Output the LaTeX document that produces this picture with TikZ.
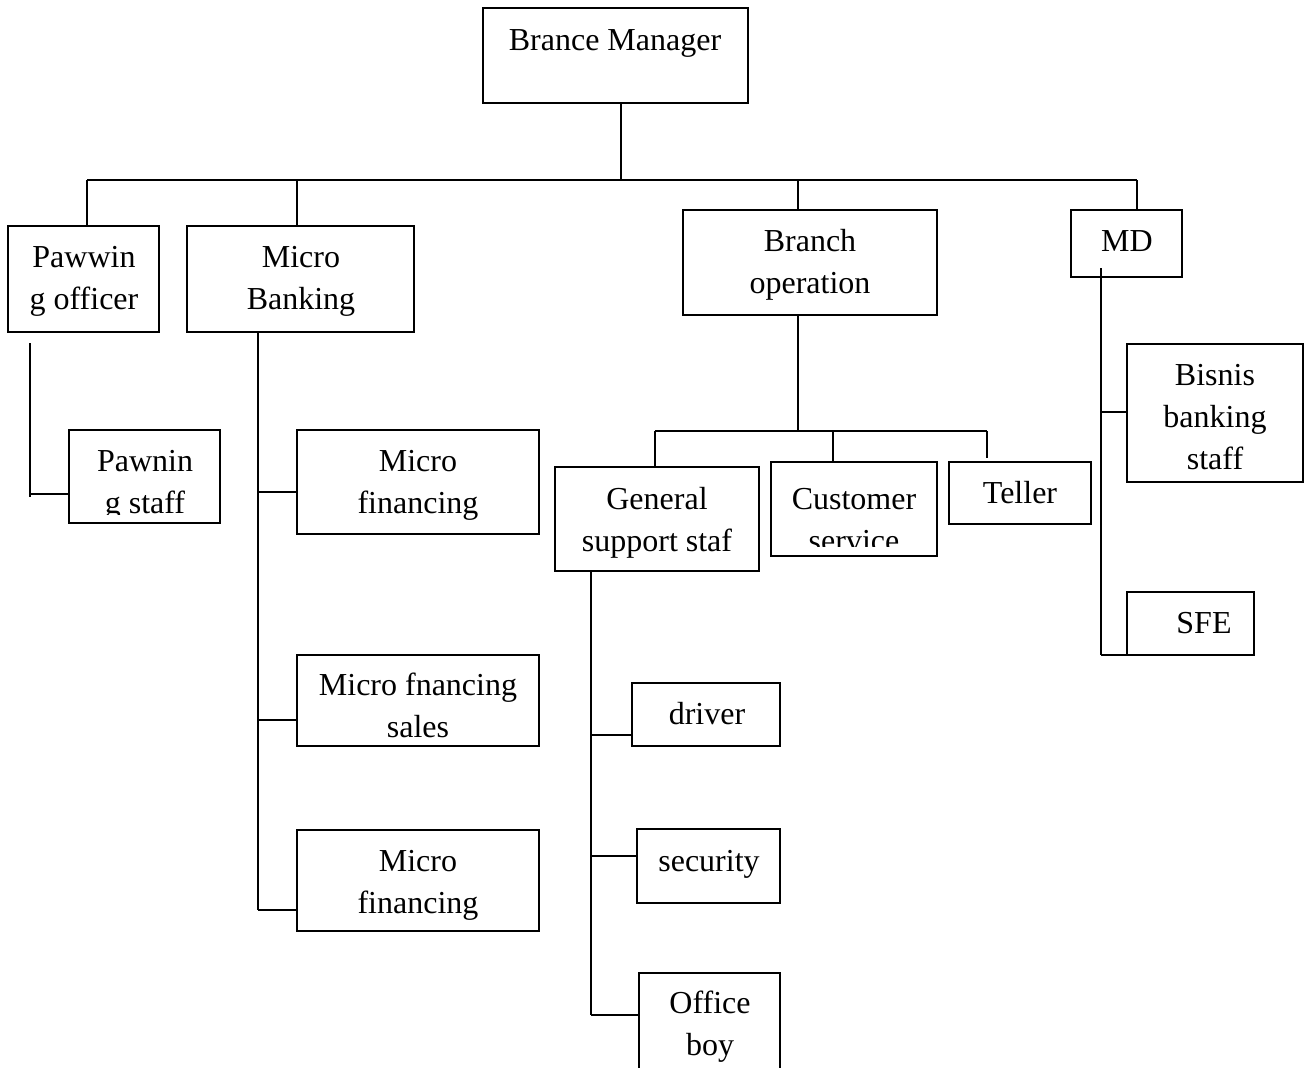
\documentclass[tikz,border=0pt]{standalone}
\usepackage{fontspec}
\setmainfont{Liberation Serif}
\usetikzlibrary{fit}
\tikzset{
  box/.style={draw=black, line width=2pt, inner sep=0pt},
  lbl/.style={inner sep=0pt, anchor=base, font=\fontsize{32}{42}\selectfont},
  conn/.style={draw=black, line width=2pt}
}
\newcommand\mybox[5]{%
  \path (#2,#3) coordinate (#1-nw) (#4,#5) coordinate (#1-se);
  \node[box, fit=(#1-nw)(#1-se)] (#1) {};}
\begin{document}
\begin{tikzpicture}[x=1pt,y=-1pt]
\clip (0,0) rectangle (1309,1068);
\fill[white] (0,0) rectangle (1309,1068);
% boxes
\mybox{bm}{483}{8}{748}{103}
\mybox{po}{8}{226}{159}{332}
\mybox{mb}{187}{226}{414}{332}
\mybox{bo}{683}{210}{937}{315}
\mybox{md}{1071}{210}{1182}{277}
\mybox{ps}{69}{430}{220}{523}
\mybox{mfa}{297}{430}{539}{534}
\mybox{mfs}{297}{655}{539}{746}
\mybox{mfb}{297}{830}{539}{931}
\mybox{gs}{555}{467}{759}{571}
\mybox{cs}{771}{462}{937}{556}
\mybox{te}{949}{462}{1091}{524}
\mybox{bb}{1127}{344}{1303}{482}
\mybox{sfe}{1127}{592}{1254}{655}
\mybox{dr}{632}{683}{780}{746}
\mybox{se}{637}{829}{780}{903}
\mybox{ob}{639}{973}{780}{1080}
% texts
\node[lbl] (bm-t) at (615,50) {Brance Manager};
\node[lbl] (po-t1) at (84,267) {Pawwin};
\node[lbl] (po-t2) at (84,309) {g officer};
\node[lbl] (mb-t1) at (301,267) {Micro};
\node[lbl] (mb-t2) at (301,309) {Banking};
\node[lbl] (bo-t1) at (810,251) {Branch};
\node[lbl] (bo-t2) at (810,293) {operation};
\node[lbl] (md-t) at (1127,251) {MD};
\begin{scope}
\clip (69,430) rectangle (220,514);
\node[lbl] (ps-t1) at (145,471) {Pawnin};
\node[lbl] (ps-t2) at (145,513) {g staff};
\end{scope}
\node[lbl] (mfa-t1) at (418,471) {Micro};
\node[lbl] (mfa-t2) at (418,513) {financing};
\node[lbl] (mfs-t1) at (418,695) {Micro fnancing};
\node[lbl] (mfs-t2) at (418,737) {sales};
\node[lbl] (mfb-t1) at (418,871) {Micro};
\node[lbl] (mfb-t2) at (418,913) {financing};
\node[lbl] (gs-t1) at (657,509) {General};
\node[lbl] (gs-t2) at (657,551) {support staf};
\begin{scope}
\clip (771,462) rectangle (937,546);
\node[lbl] (cs-t1) at (854,509) {Customer};
\node[lbl] (cs-t2) at (854,551) {service};
\end{scope}
\node[lbl] (te-t) at (1020,503) {Teller};
\node[lbl] (bb-t1) at (1215,385) {Bisnis};
\node[lbl] (bb-t2) at (1215,427) {banking};
\node[lbl] (bb-t3) at (1215,469) {staff};
\node[lbl] (sfe-t) at (1204,633) {SFE};
\node[lbl] (dr-t) at (707,724) {driver};
\node[lbl] (se-t) at (709,871) {security};
\node[lbl] (ob-t1) at (710,1013) {Office};
\node[lbl] (ob-t2) at (710,1055) {boy};
% junction coordinates
\coordinate (J0) at (621,180);
\coordinate (busL) at (87,180);
\coordinate (busR) at (1137,180);
\coordinate (J1) at (297,180);
\coordinate (J2) at (798,180);
\coordinate (P1) at (30,343);
\coordinate (P2) at (30,494);
\coordinate (P3) at (30,497);
\coordinate (M0) at (258,332);
\coordinate (M1) at (258,492);
\coordinate (M2) at (258,720);
\coordinate (M3) at (258,910);
\coordinate (Bj) at (798,431);
\coordinate (Bl) at (655,431);
\coordinate (Bc) at (833,431);
\coordinate (Br) at (987,431);
\coordinate (Te) at (987,458);
\coordinate (G1) at (591,735);
\coordinate (G2) at (591,856);
\coordinate (G3) at (591,1015);
\coordinate (D0) at (1101,268);
\coordinate (D1) at (1101,412);
\coordinate (D2) at (1101,655);
% connectors
\draw[conn] (bm.south -| J0) -- (J0);
\draw[conn] (busL) -- (busR);
\draw[conn] (busL) -- (busL |- po.north);
\draw[conn] (J1) -- (J1 |- mb.north);
\draw[conn] (J2) -- (J2 |- bo.north);
\draw[conn] (busR) -- (busR |- md.north);
\draw[conn] (P1) -- (P3);
\draw[conn] (P2) -- (P2 -| ps.west);
\draw[conn] (M0) -- (M3);
\draw[conn] (M1) -- (M1 -| mfa.west);
\draw[conn] (M2) -- (M2 -| mfs.west);
\draw[conn] (M3) -- (M3 -| mfb.west);
\draw[conn] (bo.south -| Bj) -- (Bj);
\draw[conn] (Bl) -- (Br);
\draw[conn] (Bl) -- (Bl |- gs.north);
\draw[conn] (Bc) -- (Bc |- cs.north);
\draw[conn] (Br) -- (Te);
\draw[conn] (gs.south -| G3) -- (G3);
\draw[conn] (G1) -- (G1 -| dr.west);
\draw[conn] (G2) -- (G2 -| se.west);
\draw[conn] (G3) -- (G3 -| ob.west);
\draw[conn] (D0) -- (D2);
\draw[conn] (D1) -- (D1 -| bb.west);
\draw[conn] (D2) -- (D2 -| sfe.west);
\end{tikzpicture}
\end{document}
